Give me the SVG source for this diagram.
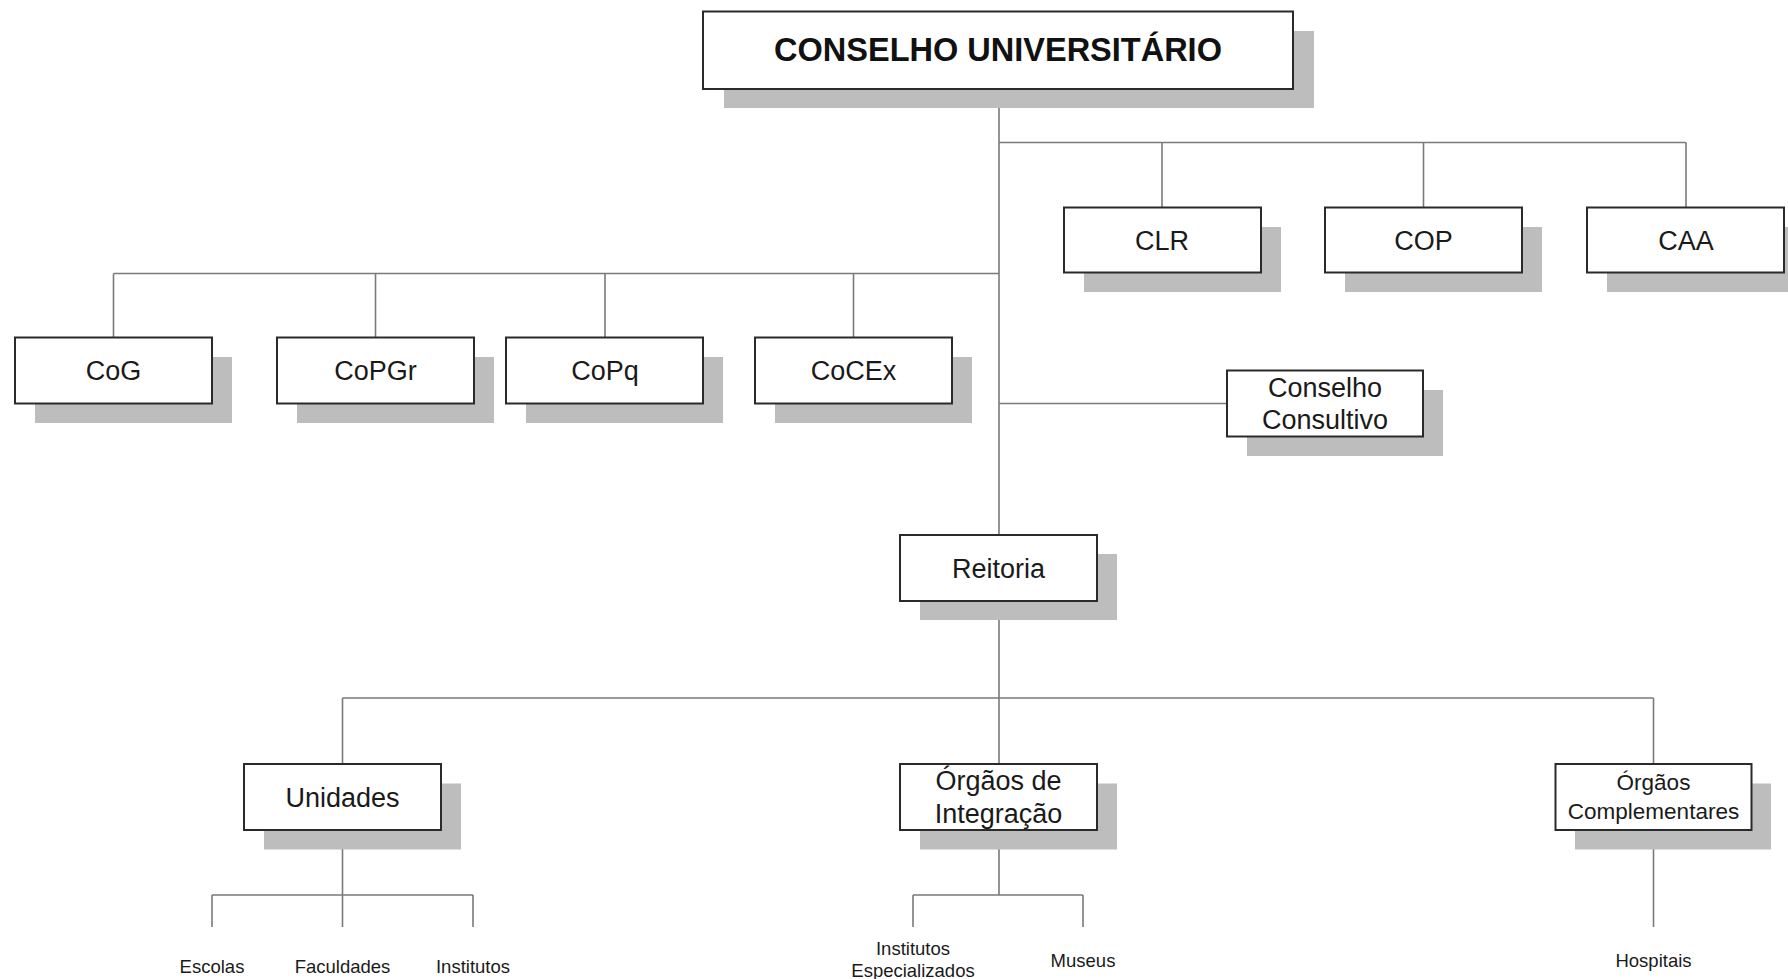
<svg xmlns="http://www.w3.org/2000/svg" width="1788" height="979" viewBox="0 0 1788 979">
<defs>
<style>
.sh{fill:#bdbdbd;stroke:none}
.bx{fill:#fff;stroke:#2a2a2a;stroke-width:2}
.t{font-family:"Liberation Sans",Arial,sans-serif;font-size:27px;fill:#1a1a1a;text-anchor:middle}
.tb{font-family:"Liberation Sans",Arial,sans-serif;font-size:32.5px;font-weight:bold;fill:#111;text-anchor:middle}
.ts{font-family:"Liberation Sans",Arial,sans-serif;font-size:22.5px;fill:#1a1a1a;text-anchor:middle}
.tl{font-family:"Liberation Sans",Arial,sans-serif;font-size:18.5px;fill:#1a1a1a;text-anchor:middle}
.c{fill:none;stroke:#7a7a7a;stroke-width:1.6}
</style>
</defs>
<rect width="1788" height="979" fill="#fff"/>
<g id="connectors">
<path class="c" d="M999 89V535M999 601V764"/>
<path class="c" d="M999 142.5H1686M1162 142.5V207.5M1423.5 142.5V207.5M1686 142.5V207.5"/>
<path class="c" d="M113.5 273.5H999M113.5 273.5V337.5M375.5 273.5V337.5M605 273.5V337.5M853.5 273.5V337.5"/>
<path class="c" d="M999 403.5H1227"/>
<path class="c" d="M342.5 698H1653.5M342.5 698V764M1653.5 698V764"/>
<path class="c" d="M342.5 830V927M212 895H473M212 895V927M473 895V927"/>
<path class="c" d="M999 830V895M913 895H1083M913 895V927M1083 895V927"/>
<path class="c" d="M1653.5 830V927"/>
</g>
<g id="conselho-universitario">
<rect class="sh" x="724" y="31" width="590" height="77"/>
<rect class="bx" x="703" y="11.5" width="590" height="77.5"/>
<text class="tb" x="998" y="60.5">CONSELHO UNIVERSITÁRIO</text>
</g>
<g id="clr">
<rect class="sh" x="1084" y="227" width="197" height="65"/>
<rect class="bx" x="1064" y="207.5" width="197" height="65"/>
<text class="t" x="1162" y="249.5">CLR</text>
</g>
<g id="cop">
<rect class="sh" x="1345" y="227" width="197" height="65"/>
<rect class="bx" x="1325" y="207.5" width="197" height="65"/>
<text class="t" x="1423.5" y="249.5">COP</text>
</g>
<g id="caa">
<rect class="sh" x="1607" y="227" width="181" height="65"/>
<rect class="bx" x="1587" y="207.5" width="197" height="65"/>
<text class="t" x="1686" y="249.5">CAA</text>
</g>
<g id="cog">
<rect class="sh" x="35" y="357" width="197" height="66"/>
<rect class="bx" x="15" y="337.5" width="197" height="66"/>
<text class="t" x="113.5" y="380">CoG</text>
</g>
<g id="copgr">
<rect class="sh" x="297" y="357" width="197" height="66"/>
<rect class="bx" x="277" y="337.5" width="197" height="66"/>
<text class="t" x="375.5" y="380">CoPGr</text>
</g>
<g id="copq">
<rect class="sh" x="526" y="357" width="197" height="66"/>
<rect class="bx" x="506" y="337.5" width="197" height="66"/>
<text class="t" x="605" y="380">CoPq</text>
</g>
<g id="cocex">
<rect class="sh" x="775" y="357" width="197" height="66"/>
<rect class="bx" x="755" y="337.5" width="197" height="66"/>
<text class="t" x="853.5" y="380">CoCEx</text>
</g>
<g id="conselho-consultivo">
<rect class="sh" x="1247" y="390" width="196" height="66"/>
<rect class="bx" x="1227" y="370.5" width="196" height="66"/>
<text class="t" x="1325" y="396.5">Conselho</text>
<text class="t" x="1325" y="429">Consultivo</text>
</g>
<g id="reitoria">
<rect class="sh" x="920" y="554" width="197" height="66"/>
<rect class="bx" x="900" y="535" width="197" height="66"/>
<text class="t" x="998.5" y="577.5">Reitoria</text>
</g>
<g id="unidades">
<rect class="sh" x="264" y="783.5" width="197" height="66"/>
<rect class="bx" x="244" y="764" width="197" height="66"/>
<text class="t" x="342.5" y="806.5">Unidades</text>
</g>
<g id="orgaos-integracao">
<rect class="sh" x="920" y="783.5" width="197" height="66"/>
<rect class="bx" x="900" y="764" width="197" height="66"/>
<text class="t" x="998.5" y="790">Órgãos de</text>
<text class="t" x="998.5" y="823">Integração</text>
</g>
<g id="orgaos-complementares">
<rect class="sh" x="1575" y="783.5" width="196" height="66"/>
<rect class="bx" x="1555.5" y="764" width="196" height="66"/>
<text class="ts" x="1653.5" y="790">Órgãos</text>
<text class="ts" x="1653.5" y="819">Complementares</text>
</g>
<g id="escolas"><text class="tl" x="212" y="973">Escolas</text></g>
<g id="faculdades"><text class="tl" x="342.5" y="973">Faculdades</text></g>
<g id="institutos"><text class="tl" x="473" y="973">Institutos</text></g>
<g id="institutos-especializados">
<text class="tl" x="913" y="955">Institutos</text>
<text class="tl" x="913" y="977">Especializados</text>
</g>
<g id="museus"><text class="tl" x="1083" y="967">Museus</text></g>
<g id="hospitais"><text class="tl" x="1653.5" y="967">Hospitais</text></g>
</svg>
